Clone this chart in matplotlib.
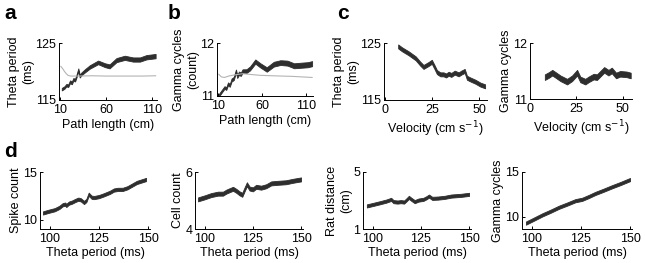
import matplotlib
matplotlib.use("Agg")
import matplotlib.pyplot as plt
import numpy as np

plt.rcParams['font.family'] = ['Liberation Sans', 'DejaVu Sans']
plt.rcParams['font.size'] = 8

# ---- data ----
# a: theta period vs path length
a_x = [12, 15, 17, 19, 21, 23, 24.5, 26.5, 28, 30, 31.5, 33.5, 37, 42.5, 51.5, 59, 64, 71.5, 80.5, 89.5, 97, 104, 114]
a_y = [116.9, 117.2, 117.6, 117.5, 118.2, 118.0, 118.6, 118.5, 119.2, 120.3, 119.2, 119.6, 120.1, 120.8, 121.6, 121.1, 120.9, 122.0, 122.4, 122.1, 122.1, 122.5, 122.7]
a_err = [0.22, 0.22, 0.22, 0.22, 0.24, 0.24, 0.24, 0.25, 0.25, 0.25, 0.26, 0.26, 0.28, 0.3, 0.32, 0.34, 0.35, 0.36, 0.37, 0.37, 0.37, 0.38, 0.38]
a_ctrl_x = [11, 13, 15, 17, 19, 22, 30, 45, 60, 80, 100, 114]
a_ctrl_y = [120.9, 120.5, 120.0, 119.6, 119.3, 119.2, 119.2, 119.25, 119.2, 119.2, 119.2, 119.25]

# b: gamma cycles vs path length
b_x = [11, 14, 17.5, 19.5, 21.5, 23.5, 25.5, 28, 30.5, 32, 34, 36, 38, 42.5, 46.5, 52.5, 58, 65.5, 73.5, 81, 89, 96.5, 104, 112, 117]
b_y = [11.01, 11.08, 11.16, 11.14, 11.23, 11.20, 11.30, 11.33, 11.47, 11.37, 11.43, 11.41, 11.47, 11.47, 11.52, 11.65, 11.58, 11.50, 11.60, 11.63, 11.62, 11.57, 11.58, 11.59, 11.61]
b_err = [0.025, 0.025, 0.025, 0.025, 0.027, 0.027, 0.028, 0.03, 0.03, 0.03, 0.032, 0.032, 0.033, 0.035, 0.037, 0.04, 0.04, 0.042, 0.045, 0.045, 0.047, 0.047, 0.048, 0.048, 0.048]
b_ctrl_x = [11, 14, 17.5, 23, 30, 38, 45, 58, 75, 95, 117]
b_ctrl_y = [11.41, 11.36, 11.35, 11.38, 11.40, 11.42, 11.41, 11.39, 11.38, 11.37, 11.35]

# c: theta period vs velocity
c_x = [7, 9, 12.5, 16.3, 18.6, 20.4, 23.0, 24.8, 26.2, 27.5, 29.3, 31.0, 32.3, 33.7, 35.1, 36.9, 39.0, 40.4, 42.2, 43.4, 45.2, 47.9, 50.5, 53]
c_y = [124.4, 123.9, 123.2, 122.3, 121.4, 120.8, 121.3, 121.7, 120.8, 119.9, 119.5, 119.5, 119.3, 119.6, 119.4, 119.8, 119.5, 119.8, 120.1, 118.9, 118.6, 118.2, 117.7, 117.4]
c_err = 0.35

# c (right): gamma cycles vs velocity
c2_x = [8, 10.2, 12.0, 13.8, 16.4, 20.0, 22.7, 25.4, 27.1, 29.8, 31.6, 34.3, 36.1, 37.9, 40.0, 42.3, 44.1, 46.4, 48.6, 52.1, 54.3]
c2_y = [11.39, 11.43, 11.47, 11.43, 11.37, 11.31, 11.37, 11.47, 11.35, 11.31, 11.35, 11.40, 11.39, 11.45, 11.52, 11.47, 11.51, 11.42, 11.45, 11.44, 11.42]
c2_err = 0.05

# d: versus theta period
d1_x = [96.5, 99.3, 102.5, 104.9, 106.5, 107.8, 108.4, 109.7, 111.3, 112.9, 114.5, 115.8, 117.4, 118.6, 119.8, 121.3, 122.6, 125.0, 127.4, 130.6, 132.6, 134.6, 137.1, 139.5, 141.9, 144.3, 149]
d1_y = [10.69, 10.86, 11.03, 11.28, 11.55, 11.62, 11.48, 11.72, 11.83, 12.00, 12.14, 12.07, 11.79, 12.00, 12.66, 12.34, 12.31, 12.41, 12.59, 12.86, 13.10, 13.17, 13.17, 13.34, 13.62, 13.90, 14.21]
d1_err = 0.17

d2_x = [96.6, 100, 103.4, 106.9, 109.5, 111.2, 112.9, 114.7, 116.4, 118.1, 119.5, 120.7, 121.9, 123.3, 125.0, 126.7, 129.3, 131.9, 134.5, 137.9, 142.2, 145.7, 150]
d2_y = [5.04, 5.11, 5.19, 5.24, 5.24, 5.31, 5.36, 5.41, 5.34, 5.25, 5.20, 5.39, 5.57, 5.42, 5.39, 5.48, 5.45, 5.50, 5.60, 5.62, 5.64, 5.69, 5.74]
d2_err = 0.07

d3_x = [97, 100.4, 103.7, 107.1, 109.6, 110.8, 112.9, 114.6, 116.3, 117.4, 118.8, 120.1, 121.8, 123.8, 126.3, 128.0, 129.2, 130.9, 133.9, 137.3, 140.7, 145.7, 150]
d3_y = [2.62, 2.73, 2.84, 2.96, 3.08, 2.92, 2.89, 2.92, 2.89, 3.03, 3.22, 3.08, 2.92, 3.03, 3.08, 3.20, 3.31, 3.15, 3.17, 3.22, 3.31, 3.36, 3.43]
d3_err = 0.11

d4_x = [97, 101, 105.4, 109.6, 113.8, 118, 122.2, 125.6, 129, 132.3, 136.5, 140.7, 145.3, 150]
d4_y = [9.26, 9.7, 10.19, 10.6, 11.04, 11.4, 11.78, 11.93, 12.25, 12.59, 12.95, 13.33, 13.72, 14.15]
d4_err = 0.18

BAND = '#2e2e2e'
CTRL = '#b4b4b4'

W, H = 645, 263
fig = plt.figure(figsize=(W / 100, H / 100), dpi=100)

TICK = 9
LBL = 9


def make_ax(l, r, top, bot):
    ax = fig.add_axes([l / W, 1 - bot / H, (r - l) / W, (bot - top) / H])
    for s in ('top', 'right'):
        ax.spines[s].set_visible(False)
    for s in ('left', 'bottom'):
        ax.spines[s].set_linewidth(0.7)
    ax.tick_params(direction='in', length=2.5, width=0.7, labelsize=TICK)
    ax.tick_params(axis='x', pad=3)
    ax.tick_params(axis='y', pad=2)
    return ax


def band(ax, x, y, e):
    x = np.asarray(x, float)
    y = np.asarray(y, float)
    e = np.broadcast_to(np.asarray(e, float), y.shape)
    ax.fill_between(x, y - e, y + e, color=BAND, lw=0.6, edgecolor=BAND)


# a
ax = make_ax(59, 157, 43, 100)
ax.plot(a_ctrl_x, a_ctrl_y, color=CTRL, lw=0.8)
band(ax, a_x, a_y, a_err)
ax.set_xlim(9, 115.5); ax.set_ylim(115, 125)
ax.set_xticks([10, 60, 110]); ax.set_yticks([115, 125])
ax.set_xlabel('Path length (cm)', fontsize=LBL, labelpad=2)
ax.set_ylabel('Theta period\n(ms)', fontsize=LBL, labelpad=1)

# b
ax = make_ax(217, 313, 43, 96)
ax.plot(b_ctrl_x, b_ctrl_y, color=CTRL, lw=0.8)
band(ax, b_x, b_y, b_err)
ax.set_xlim(9, 118); ax.set_ylim(11, 12)
ax.set_xticks([10, 60, 110]); ax.set_yticks([11, 12])
ax.set_xlabel('Path length (cm)', fontsize=LBL, labelpad=2)
ax.set_ylabel('Gamma cycles\n(count)', fontsize=LBL, labelpad=1)

# c left
ax = make_ax(384, 487, 43, 100)
band(ax, c_x, c_y, c_err)
ax.set_xlim(-0.5, 54); ax.set_ylim(115, 125)
ax.set_xticks([0, 25, 50]); ax.set_yticks([115, 125])
ax.set_xlabel('Velocity (cm s$^{-1}$)', fontsize=LBL, labelpad=2)
ax.set_ylabel('Theta period\n(ms)', fontsize=LBL, labelpad=1)

# c right
ax = make_ax(530, 632, 43, 99)
band(ax, c2_x, c2_y, c2_err)
ax.set_xlim(0, 55); ax.set_ylim(11, 12)
ax.set_xticks([0, 25, 50]); ax.set_yticks([11, 12])
ax.set_xlabel('Velocity (cm s$^{-1}$)', fontsize=LBL, labelpad=2)
ax.set_ylabel('Gamma cycles', fontsize=LBL, labelpad=1)

# d panels
dspecs = [
    (40, 150, d1_x, d1_y, d1_err, (9, 15), [10, 15], 'Spike count'),
    (195, 303, d2_x, d2_y, d2_err, (4, 6), [4, 6], 'Cell count'),
    (363, 471, d3_x, d3_y, d3_err, (1, 5), [1, 5], 'Rat distance\n(cm)'),
    (522, 632, d4_x, d4_y, d4_err, (8.6, 15), [10, 15], 'Gamma cycles'),
]
for l, r, x, y, e, yl, yt, lab in dspecs:
    ax = make_ax(l, r, 172, 229)
    band(ax, x, y, e)
    ax.set_xlim(95, 151); ax.set_ylim(*yl)
    ax.set_xticks([100, 125, 150]); ax.set_yticks(yt)
    ax.set_xlabel('Theta period (ms)', fontsize=LBL, labelpad=1)
    ax.set_ylabel(lab, fontsize=LBL, labelpad=1)

# panel letters
for t, x, y in [('a', 4, 4), ('b', 168, 4), ('c', 337, 4), ('d', 4, 142)]:
    fig.text(x / W, 1 - y / H, t, fontsize=15, fontweight='bold', va='top', ha='left')

fig.savefig('out.png', dpi=100)
